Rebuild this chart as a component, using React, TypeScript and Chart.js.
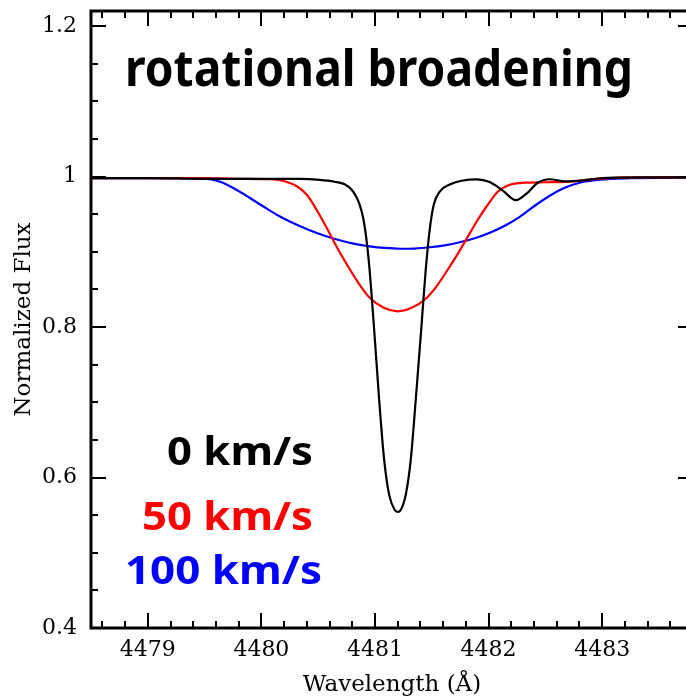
import React, { useEffect, useRef } from 'react';
import { Chart, registerables } from 'chart.js';

Chart.register(...registerables);

// ---------- data ----------
const TITLE = 'rotational broadening';
const X_TITLE = 'Wavelength (Å)';
const Y_TITLE = 'Normalized Flux';
const SERIES_LABELS = ['0 km/s', '50 km/s', '100 km/s'];
const SERIES_COLORS = ['#000000', '#ff0000', '#0000ff'];

const X_MIN = 4478.5;
const X_MAX = 4483.8;
const Y_MIN = 0.4;
const Y_MAX = 1.22;
const X_MAJOR_STEP = 1;
const X_MINOR_STEP = 0.2;
const Y_MAJOR_STEP = 0.2;
const Y_MINOR_STEP = 0.05;

// 0 km/s
const WL_0 = [
  4478.5, 4479.0, 4479.5, 4480.0, 4480.336, 4480.513, 4480.645, 4480.733, 4480.795, 4480.83,
  4480.865, 4480.896, 4480.922, 4480.949, 4480.993, 4481.037, 4481.081, 4481.125, 4481.174, 4481.2,
  4481.227, 4481.271, 4481.315, 4481.359, 4481.407, 4481.447, 4481.482, 4481.518, 4481.57, 4481.658,
  4481.764, 4481.896, 4482.01, 4482.125, 4482.24, 4482.345, 4482.433, 4482.539, 4482.67, 4482.83,
  4482.98, 4483.34, 4483.8,
];
const FLUX_0 = [
  0.998, 0.998, 0.997, 0.997, 0.9968, 0.9955, 0.9931, 0.9898, 0.9824, 0.9745,
  0.9628, 0.9452, 0.92, 0.8827, 0.7963, 0.7032, 0.6234, 0.5769, 0.5569, 0.5543,
  0.5569, 0.5769, 0.6234, 0.7032, 0.7963, 0.8761, 0.9295, 0.9628, 0.9801, 0.9894,
  0.9944, 0.9963, 0.9926, 0.9813, 0.9686, 0.9787, 0.9918, 0.9964, 0.9937, 0.995,
  0.9977, 0.999, 0.999,
];

// 50 km/s
const WL_50 = [
  4478.5, 4479.0, 4479.5, 4479.8, 4480.072, 4480.204, 4480.319, 4480.407, 4480.496, 4480.584,
  4480.672, 4480.76, 4480.848, 4480.954, 4481.077, 4481.2, 4481.323, 4481.447, 4481.552, 4481.64,
  4481.729, 4481.817, 4481.905, 4481.993, 4482.081, 4482.187, 4482.319, 4482.495, 4482.715, 4482.979,
  4483.34, 4483.8,
];
const FLUX_50 = [
  0.998, 0.998, 0.998, 0.997, 0.9964, 0.9938, 0.9864, 0.9745, 0.9532, 0.9293,
  0.904, 0.8814, 0.8601, 0.8388, 0.8255, 0.8209, 0.8255, 0.8375, 0.8561, 0.8761,
  0.8973, 0.9199, 0.9426, 0.9625, 0.9798, 0.9891, 0.9918, 0.9924, 0.9931, 0.9971,
  0.999, 0.999,
];

// 100 km/s
const WL_100 = [
  4478.5, 4479.0, 4479.279, 4479.455, 4479.561, 4479.649, 4479.764, 4479.896, 4480.028, 4480.16,
  4480.293, 4480.425, 4480.557, 4480.689, 4480.821, 4480.954, 4481.086, 4481.218, 4481.35, 4481.482,
  4481.614, 4481.746, 4481.878, 4482.011, 4482.143, 4482.275, 4482.407, 4482.539, 4482.671, 4482.803,
  4482.979, 4483.244, 4483.8,
];
const FLUX_100 = [
  0.998, 0.998, 0.998, 0.9976, 0.9962, 0.9924, 0.9838, 0.9718, 0.9592, 0.9472,
  0.9372, 0.9286, 0.9213, 0.9153, 0.9106, 0.9073, 0.9051, 0.904, 0.9043, 0.906,
  0.9086, 0.9126, 0.918, 0.9253, 0.9346, 0.9465, 0.9612, 0.9745, 0.9851, 0.9918,
  0.9957, 0.9977, 0.999,
];

const SERIES_WL = [WL_0, WL_50, WL_100];
const SERIES_FLUX = [FLUX_0, FLUX_50, FLUX_100];

// ---------- helpers ----------
const AXIS_FONT = 'DejaVu Serif';
const LABEL_FONT = 'Noto Sans';

function buildTicks(min: number, max: number, minor: number, major: number) {
  const per = Math.round(major / minor);
  const out: any[] = [];
  const i0 = Math.ceil(min / minor - 1e-6);
  const i1 = Math.floor(max / minor + 1e-6);
  for (let i = i0; i <= i1; i++) {
    out.push({ value: Number((i * minor).toFixed(6)), major: i % per === 0 });
  }
  return out;
}

function drawFitted(ctx: CanvasRenderingContext2D, text: string, font: string, color: string,
  left: number, baseline: number, width: number) {
  ctx.save();
  ctx.font = font;
  const w = ctx.measureText(text).width || 1;
  ctx.translate(left, baseline);
  ctx.scale(width / w, 1);
  ctx.fillStyle = color;
  ctx.textAlign = 'left';
  ctx.textBaseline = 'alphabetic';
  ctx.fillText(text, 0, 0);
  ctx.restore();
}

const frameTicksPlugin = {
  id: 'frameTicks',
  afterDraw(chart: any) {
    const { ctx, chartArea: a, scales } = chart;
    const xs = scales.x;
    const ys = scales.y;
    ctx.save();
    ctx.strokeStyle = '#000';
    ctx.lineWidth = 2;
    ctx.beginPath();
    xs.ticks.forEach((t: any) => {
      const px = Math.round(xs.getPixelForValue(t.value));
      const len = t.major ? 15 : 7;
      ctx.moveTo(px, a.bottom);
      ctx.lineTo(px, a.bottom - len);
      ctx.moveTo(px, a.top);
      ctx.lineTo(px, a.top + len);
    });
    ys.ticks.forEach((t: any) => {
      const py = Math.round(ys.getPixelForValue(t.value));
      const len = t.major ? 15 : 7;
      ctx.moveTo(a.left, py);
      ctx.lineTo(a.left + len, py);
      ctx.moveTo(a.right, py);
      ctx.lineTo(a.right - len, py);
    });
    ctx.stroke();
    ctx.lineWidth = 3;
    ctx.strokeRect(a.left, a.top, a.right - a.left, a.bottom - a.top);
    ctx.restore();
  },
};

const annotationPlugin = {
  id: 'annotations',
  afterDraw(chart: any) {
    const ctx = chart.ctx as CanvasRenderingContext2D;
    drawFitted(ctx, TITLE, `700 50px "${LABEL_FONT}"`, '#000', 125, 86, 508);
    const pos = [
      { left: 167, baseline: 465, width: 146 },
      { left: 142, baseline: 530, width: 171 },
      { left: 125, baseline: 584, width: 197 },
    ];
    SERIES_LABELS.forEach((lab, i) => {
      const p = pos[i];
      drawFitted(ctx, lab, `700 40px "${LABEL_FONT}"`, SERIES_COLORS[i], p.left, p.baseline, p.width);
    });
  },
};

export default function App() {
  const ref = useRef<HTMLCanvasElement | null>(null);

  useEffect(() => {
    if (!ref.current) return;
    const datasets = SERIES_LABELS.map((label, i) => ({
      label,
      data: SERIES_WL[i].map((x, j) => ({ x, y: SERIES_FLUX[i][j] })),
      borderColor: SERIES_COLORS[i],
      backgroundColor: SERIES_COLORS[i],
      borderWidth: 2.2,
      pointRadius: 0,
      fill: false,
      cubicInterpolationMode: 'monotone' as const,
    }));

    const tickFont = { family: AXIS_FONT, size: 22 };
    const titleFont = { family: AXIS_FONT, size: 23, lineHeight: 1.0 };

    const chart = new Chart(ref.current, {
      type: 'line',
      data: { datasets },
      options: {
        responsive: false,
        maintainAspectRatio: false,
        animation: false,
        events: [],
        layout: { padding: { left: 0, top: 11, right: 27, bottom: 0 } },
        plugins: { legend: { display: false }, tooltip: { enabled: false } },
        scales: {
          x: {
            type: 'linear',
            min: X_MIN,
            max: X_MAX,
            afterBuildTicks: (s: any) => {
              s.ticks = buildTicks(X_MIN, X_MAX, X_MINOR_STEP, X_MAJOR_STEP);
            },
            afterFit: (s: any) => {
              s.height = 69;
              s.paddingLeft = 0;
              s.paddingRight = 0;
              s.paddingTop = 0;
              s.paddingBottom = 0;
            },
            grid: { display: false, drawTicks: false },
            border: { display: false },
            ticks: {
              autoSkip: false,
              maxRotation: 0,
              minRotation: 0,
              padding: 9,
              color: '#000',
              font: tickFont,
              callback: (v: any, i: number, ticks: any[]) =>
                ticks[i] && ticks[i].major ? String(Math.round(Number(v))) : '',
            },
            title: {
              display: true,
              text: X_TITLE,
              color: '#000',
              font: titleFont,
              padding: { top: 0, bottom: 0 },
            },
          },
          y: {
            type: 'linear',
            min: Y_MIN,
            max: Y_MAX,
            afterBuildTicks: (s: any) => {
              s.ticks = buildTicks(Y_MIN, Y_MAX, Y_MINOR_STEP, Y_MAJOR_STEP);
            },
            afterFit: (s: any) => {
              s.width = 91;
              s.paddingLeft = 0;
              s.paddingRight = 0;
              s.paddingTop = 0;
              s.paddingBottom = 0;
            },
            grid: { display: false, drawTicks: false },
            border: { display: false },
            ticks: {
              autoSkip: false,
              padding: 14,
              color: '#000',
              font: tickFont,
              callback: (v: any, i: number, ticks: any[]) =>
                ticks[i] && ticks[i].major ? String(Number(Number(v).toFixed(2))) : '',
            },
            title: {
              display: true,
              text: Y_TITLE,
              color: '#000',
              font: titleFont,
              padding: { top: 13, bottom: 0 },
            },
          },
        },
      },
      plugins: [frameTicksPlugin, annotationPlugin],
    } as any);

    return () => chart.destroy();
  }, []);

  return (
    <div
      style={{
        position: 'fixed',
        left: 0,
        top: 0,
        width: 686,
        height: 697,
        overflow: 'hidden',
        background: '#fff',
      }}
    >
      <canvas ref={ref} width={720} height={697} style={{ display: 'block' }} />
    </div>
  );
}
